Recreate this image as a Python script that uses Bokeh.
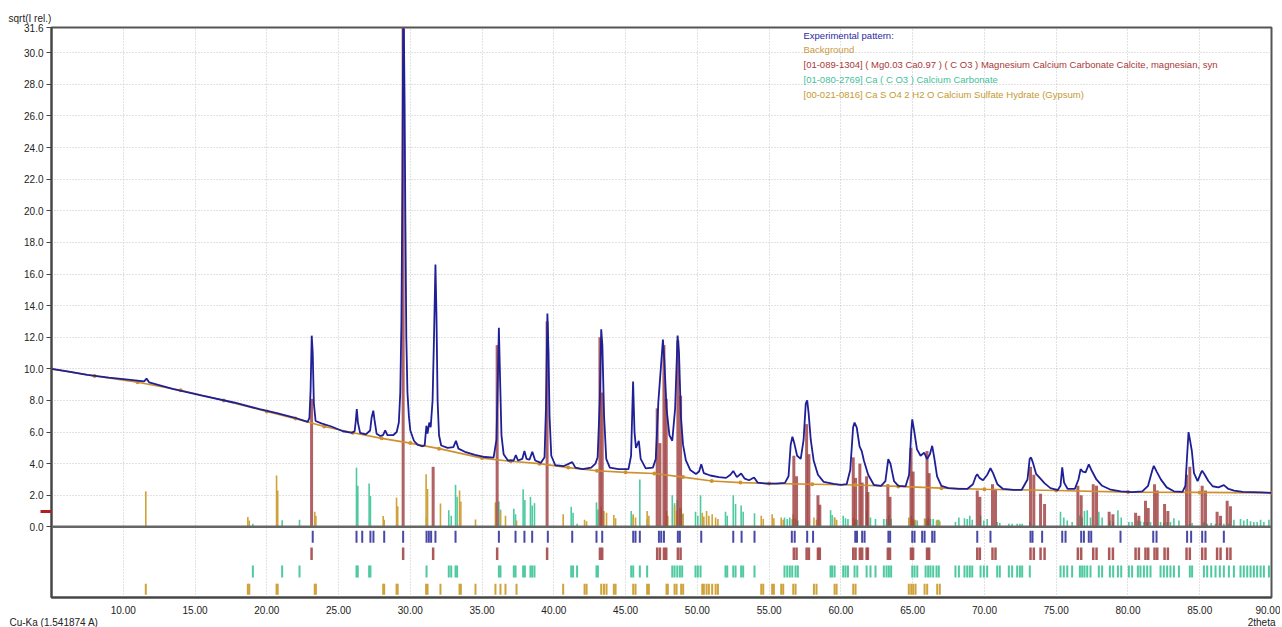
from bokeh.plotting import figure
from bokeh.layouts import column, row
from bokeh.models import Range1d, FixedTicker, PrintfTickFormatter, Span, Label
from bokeh.core.properties import value
from bokeh.embed import file_html
from bokeh.resources import INLINE

# ---------------- data ----------------
exp_2theta = [
    5.0, 6.0, 7.5, 9.0, 10.5, 11.45, 11.62, 11.8, 13.5, 15.5, 17.7, 19.5, 20.7, 21.9, 22.85,
    22.97, 23.05, 23.13, 23.2, 23.28, 23.4, 23.8, 24.5, 25.3, 25.95,
    26.12, 26.2, 26.27, 26.35, 26.5, 26.9, 27.2, 27.3, 27.42, 27.5, 27.65, 27.9, 28.1, 28.25, 28.4,
    28.8, 29.05, 29.2, 29.3, 29.38, 29.45, 29.5, 29.55, 29.6, 29.65, 29.72, 29.8, 29.9, 30.0,
    30.25, 30.5, 30.8, 31.0, 31.12, 31.2, 31.32, 31.42, 31.55, 31.65, 31.75, 31.82, 31.9, 32.0,
    32.15, 32.6, 33.0, 33.18, 33.35, 33.8, 34.5, 35.2, 35.8, 36.0, 36.1, 36.17, 36.25, 36.35,
    36.5, 36.8, 37.2, 37.35, 37.5, 37.8, 37.95, 38.1, 38.3, 38.5, 38.7, 39.1, 39.35, 39.45,
    39.55, 39.63, 39.7, 39.82, 40.1, 40.7, 41.28, 41.5, 42.0, 42.6, 42.9, 43.05, 43.2, 43.3,
    43.38, 43.5, 43.65, 43.9, 44.5, 45.2, 45.38, 45.52, 45.62, 45.72, 45.92, 46.05, 46.4, 46.9,
    47.1, 47.28, 47.45, 47.6, 47.7, 47.85, 48.05, 48.25, 48.45, 48.62, 48.72, 48.85, 49.0, 49.2,
    49.5, 49.9, 50.12, 50.27, 50.45, 50.9, 51.5, 52.0, 52.3, 52.5, 52.75, 53.05, 53.3, 53.6,
    53.95, 54.2, 54.8, 55.5, 56.1, 56.35, 56.5, 56.62, 56.75, 56.95, 57.2, 57.4, 57.55, 57.65,
    57.75, 57.9, 58.1, 58.4, 58.8, 59.5, 60.0, 60.4, 60.65, 60.85, 60.95, 61.1, 61.3, 61.45,
    61.6, 61.9, 62.3, 62.8, 63.1, 63.3, 63.45, 63.7, 64.0, 64.5, 64.75, 64.9, 64.97, 65.1,
    65.3, 65.55, 65.8, 66.0, 66.2, 66.36, 66.5, 66.7, 67.0, 67.5, 68.2, 68.8, 69.2, 69.4,
    69.5, 69.65, 69.9, 70.2, 70.42, 70.6, 70.9, 71.3, 72.0, 72.6, 73.0, 73.15, 73.25, 73.4,
    73.6, 73.95, 74.2, 74.6, 75.1, 75.3, 75.42, 75.55, 75.8, 76.3, 76.55, 76.7, 76.85, 77.05,
    77.27, 77.45, 77.8, 78.2, 78.8, 79.5, 80.3, 81.0, 81.4, 81.7, 81.8, 82.0, 82.3, 82.7,
    83.2, 83.8, 84.0, 84.12, 84.22, 84.32, 84.45, 84.6, 84.85, 85.1, 85.17, 85.35, 85.6, 85.9,
    86.3, 86.68, 87.0, 87.4, 88.0, 88.7, 89.3, 90.0,
]
exp_sqrtI = [
    10.0, 9.85, 9.62, 9.45, 9.3, 9.2, 9.38, 9.15, 8.72, 8.3, 7.87, 7.45, 7.2, 6.92, 6.65,
    6.9, 8.6, 12.1, 11.0, 7.8, 6.7, 6.55, 6.35, 6.05, 5.95,
    6.05, 6.7, 7.45, 6.6, 5.95, 5.85, 6.1, 6.9, 7.35, 6.8, 5.9, 5.75, 5.8, 6.1, 5.8,
    5.8, 6.0, 6.6, 8.5, 13.0, 22.0, 31.5, 31.5, 27.0, 20.0, 12.0, 8.5, 7.0, 6.1,
    5.45, 5.2, 5.1, 5.15, 6.4, 5.9, 6.6, 6.3, 8.0, 12.0, 16.6, 13.5, 8.0, 5.8,
    5.15, 5.0, 5.05, 5.45, 4.95, 4.75, 4.55, 4.42, 4.38, 5.5, 9.5, 12.6, 9.5, 5.8,
    4.6, 4.2, 4.2, 4.55, 4.2, 4.3, 4.8, 4.3, 4.25, 4.75, 4.2, 4.05, 4.4, 7.5,
    13.5, 11.0, 7.0, 4.5, 3.9, 3.85, 4.1, 3.75, 3.65, 3.75, 4.0, 4.4, 8.0, 12.5,
    11.5, 7.0, 4.3, 3.75, 3.65, 3.65, 4.5, 9.2, 6.0, 5.0, 5.45, 4.3, 3.7, 3.75,
    4.3, 7.9, 10.0, 11.85, 10.5, 7.5, 5.8, 5.45, 7.5, 12.1, 11.0, 7.0, 5.2, 4.2,
    3.6, 3.35, 3.5, 3.97, 3.4, 3.25, 3.15, 3.1, 3.3, 3.54, 3.15, 3.38, 3.05, 2.95,
    3.12, 2.8, 2.74, 2.74, 2.78, 3.2, 5.2, 5.7, 5.3, 4.5, 4.3, 5.5, 7.8, 8.0,
    7.2, 5.5, 4.2, 3.3, 2.85, 2.72, 2.66, 2.7, 3.6, 6.3, 6.6, 6.3, 5.1, 4.8,
    4.2, 3.3, 2.65, 2.6, 2.9, 4.28, 4.0, 2.9, 2.6, 2.56, 3.3, 6.0, 6.8, 6.1,
    4.9, 4.5, 4.7, 4.3, 4.6, 5.13, 4.4, 3.2, 2.6, 2.45, 2.4, 2.4, 2.7, 3.2,
    3.33, 3.1, 2.95, 3.3, 3.71, 3.4, 2.7, 2.4, 2.34, 2.35, 3.0, 4.3, 4.39, 4.0,
    3.35, 3.0, 2.75, 2.45, 2.32, 2.6, 3.76, 2.8, 2.4, 2.4, 3.0, 3.65, 3.5, 3.45,
    3.96, 3.6, 3.0, 2.6, 2.35, 2.25, 2.2, 2.25, 2.6, 3.6, 3.86, 3.5, 2.99, 2.5,
    2.25, 2.22, 2.6, 4.5, 6.0, 5.5, 4.8, 3.4, 2.9, 3.45, 3.55, 3.3, 2.9, 2.57,
    2.5, 2.64, 2.4, 2.3, 2.22, 2.2, 2.18, 2.15,
]

bg_2theta = [5, 8, 11, 14, 17, 20, 22, 24, 26, 28, 30, 32, 35, 37, 39, 41, 43, 45, 47, 49,
             51, 53, 55, 58, 61, 64, 67, 70, 75, 80, 85, 90]
bg_sqrtI = [10.0, 9.55, 9.15, 8.65, 8.0, 7.3, 6.85, 6.35, 5.95, 5.6, 5.3, 4.95, 4.35, 4.15,
            4.0, 3.75, 3.55, 3.45, 3.38, 3.15, 2.9, 2.8, 2.75, 2.7, 2.65, 2.56, 2.45, 2.38,
            2.3, 2.2, 2.18, 2.15]

# peak list of the experimental pattern (blue ticks)
peak_pos = [23.2, 26.25, 26.65, 27.22, 27.43, 28.18, 29.5, 31.13, 31.29, 31.45, 31.75, 33.15,
            36.17, 37.33, 37.95, 38.49, 39.58, 41.28, 42.97, 43.37, 45.53, 45.69, 45.99, 47.32,
            47.48, 47.67, 48.64, 48.78, 50.27, 52.5, 53.08, 53.98, 56.58, 56.78, 57.65, 58.06,
            61.0, 61.12, 61.48, 61.65, 63.31, 63.43, 64.97, 65.13, 65.66, 65.83, 66.36, 66.52,
            69.5, 70.42, 73.21, 73.35, 74.02, 75.42, 75.65, 76.74, 76.93, 77.27, 77.44, 79.48,
            81.76, 81.99, 84.12, 84.4, 85.17, 85.4, 86.68]

# [01-089-1304] magnesian calcite
calcite_pos = [23.12, 29.5, 31.59, 36.05, 39.53, 43.21, 43.37, 47.2, 47.39, 47.67, 47.83,
               48.64, 48.83, 56.72, 56.91, 57.61, 57.77, 58.4, 58.53, 60.86, 61.02, 61.32,
               61.48, 61.79, 61.88, 63.27, 63.42, 64.88, 65.03, 66.0, 66.15, 69.5, 69.68,
               70.56, 70.77, 73.21, 73.44, 73.91, 74.19, 76.51, 76.74, 77.58, 77.81, 78.69,
               78.95, 80.53, 80.76, 81.22, 81.41, 81.85, 82.04, 82.55, 82.78, 84.08, 84.31,
               85.17, 85.4, 86.21, 86.45, 86.91, 87.14]
calcite_h = [8.1, 31.6, 3.8, 11.5, 13.0, 12.0, 8.5, 7.5, 5.3, 11.5, 8.1,
             11.8, 8.3, 4.5, 3.2, 6.5, 4.6, 2.0, 1.4, 4.4, 3.1, 4.0,
             2.8, 3.2, 2.2, 2.7, 1.9, 5.0, 3.5, 4.8, 3.4, 2.3, 1.9,
             2.7, 2.4, 3.8, 3.3, 2.1, 1.45, 2.6, 2.0, 2.7, 2.6, 0.95,
             0.8, 0.9, 0.7, 1.65, 1.2, 2.7, 2.3, 1.45, 1.0, 3.3, 3.8,
             2.6, 2.3, 0.95, 0.7, 1.65, 1.3]

# [01-080-2769] calcium carbonate
arag_pos = [19.03, 21.07, 22.28, 26.25, 26.34, 27.13, 27.22, 31.13, 32.68, 32.85, 33.15, 33.26,
            36.17, 36.28, 37.21, 37.33, 37.86, 37.98, 38.37, 38.49, 38.65, 41.21, 41.34, 41.62,
            42.97, 43.07, 45.39, 45.53, 45.99, 46.5, 48.25, 48.41, 48.6, 48.78, 48.94, 49.87,
            50.03, 50.22, 51.96, 52.08, 52.5, 52.66, 53.05, 53.19, 53.98, 56.07, 56.26, 56.44,
            56.61, 56.84, 57.0, 59.28, 59.39, 59.56, 60.16, 60.32, 60.49, 60.95, 61.14, 61.79,
            62.06, 62.41, 62.99, 63.18, 63.34, 63.5, 64.97, 65.13, 65.32, 65.9, 66.08, 66.24,
            66.43, 66.66, 66.82, 67.98, 68.22, 68.61, 68.8, 68.98, 69.15, 69.73, 69.96, 70.19,
            70.89, 71.07, 71.7, 71.93, 72.28, 72.47, 72.63, 73.16, 75.3, 75.53, 75.77, 76.11,
            76.65, 76.81, 76.97, 77.16, 77.39, 77.97, 78.2, 78.74, 78.97, 79.3, 79.53, 80.06,
            80.29, 80.69, 80.87, 81.11, 81.34, 81.57, 82.27, 82.5, 82.73, 82.96, 83.2, 83.55,
            84.31, 84.47, 85.29, 85.52, 85.8, 86.1, 86.4, 86.68, 87.03, 87.38, 87.84, 88.07,
            88.31, 88.54, 88.77, 89.0, 89.24, 89.47, 89.82]
arag_h = [0.2, 0.42, 0.45, 3.75, 2.6, 2.75, 1.95, 0.6, 1.05, 0.7, 2.66, 1.9,
          1.6, 1.1, 1.15, 0.8, 2.38, 1.7, 1.9, 1.35, 1.5, 1.27, 0.9, 0.2,
          1.55, 1.1, 1.0, 0.7, 3.0, 0.5, 2.0, 1.5, 1.7, 1.2, 0.8, 0.95,
          0.7, 2.0, 0.95, 0.7, 2.0, 1.45, 1.35, 0.95, 0.86, 0.6, 0.5, 0.6,
          0.5, 0.45, 0.4, 1.05, 0.75, 0.6, 0.7, 0.55, 0.5, 0.5, 0.45, 1.0,
          0.6, 0.5, 0.5, 0.5, 0.75, 0.5, 0.4, 0.4, 0.4, 0.5, 0.6, 0.5,
          0.5, 0.4, 0.45, 0.3, 0.6, 0.55, 0.5, 0.7, 0.45, 0.72, 0.4, 0.5,
          0.3, 0.25, 0.2, 0.2, 0.2, 0.2, 0.2, 0.3, 0.95, 0.6, 0.4, 0.3,
          0.72, 0.6, 1.0, 1.05, 0.6, 0.95, 0.6, 0.4, 0.3, 1.05, 0.6, 0.3,
          0.3, 0.4, 0.35, 0.3, 0.3, 0.3, 0.3, 0.25, 0.3, 0.3, 0.55, 0.4,
          0.2, 0.25, 0.3, 0.2, 0.25, 0.2, 0.25, 0.2, 0.2, 0.45, 0.5, 0.4,
          0.5, 0.35, 0.3, 0.3, 0.45, 0.3, 0.45]

# [00-021-0816] gypsum
gyp_pos = [11.57, 18.68, 18.78, 20.68, 20.76, 23.34, 23.42, 28.11, 28.18, 29.04, 29.12, 31.1,
           31.2, 32.1, 33.43, 33.52, 34.54, 35.93, 36.28, 36.63, 37.4, 40.65, 42.14, 42.28,
           43.3, 43.49, 43.67, 44.18, 44.3, 45.53, 45.69, 46.5, 46.62, 47.85, 47.94, 48.41,
           48.55, 48.87, 49.01, 50.34, 50.45, 50.64, 50.8, 51.03, 51.27, 51.43, 54.45, 54.59,
           55.21, 55.33, 55.84, 55.98, 56.68, 56.84, 58.12, 58.3, 59.56, 59.7, 60.86, 61.02,
           64.73, 64.9, 65.04, 65.2, 65.83, 66.01, 66.71, 66.89]
gyp_h = [2.25, 0.63, 0.4, 3.25, 2.3, 0.95, 0.7, 0.68, 0.45, 1.85, 1.3, 3.33,
         2.4, 1.48, 2.3, 1.6, 0.46, 1.55, 1.0, 0.7, 0.4, 0.8, 0.45, 0.35,
         1.3, 1.0, 0.9, 0.75, 0.55, 0.8, 0.6, 1.0, 0.7, 1.0, 0.7, 1.35,
         1.0, 1.2, 0.85, 0.9, 0.65, 1.0, 0.7, 0.8, 0.6, 0.5, 0.7, 0.5,
         0.8, 0.55, 0.6, 0.45, 0.8, 0.55, 0.6, 0.45, 0.6, 0.45, 0.6, 0.45,
         0.6, 0.7, 0.5, 0.45, 0.55, 0.4, 0.45, 0.35]

# red offset marker on the intensity axis
marker_level = [0.95]

y_ticks = [0.0, 2.0, 4.0, 6.0, 8.0, 10.0, 12.0, 14.0, 16.0, 18.0, 20.0, 22.0, 24.0, 26.0,
           28.0, 30.0, 31.6]
x_ticks = [10, 15, 20, 25, 30, 35, 40, 45, 50, 55, 60, 65, 70, 75, 80, 85, 90]

legend_texts = [
    "Experimental pattern:",
    "Background",
    "[01-089-1304] ( Mg0.03 Ca0.97 ) ( C O3 ) Magnesium Calcium Carbonate Calcite, magnesian, syn",
    "[01-080-2769] Ca ( C O3 ) Calcium Carbonate",
    "[00-021-0816] Ca S O4 2 H2 O Calcium Sulfate Hydrate (Gypsum)",
]
y_title = "sqrt(I rel.)"
footer_left = "Cu-Ka (1.541874 A)"
footer_right = "2theta"

# ---------------- styles ----------------
FONT = "Liberation Sans"
C_EXP = "#1f1f96"
C_BG = "#d0902c"
C_CAL = "#9e3c3c"
C_ARA = "#4fc9a0"
C_GYP = "#cfa23a"
C_PK = "#4848a6"
legend_colors = ["#2a2aa0", "#c89a40", "#a83838", "#3fbf9a", "#c49a30"]

W, H = 1280, 616
ML, MR, MT, MB = 51, 9, 27, 19
FH = H - MT - MB

p = figure(width=W, height=H, output_backend="svg", toolbar_location=None,
           x_range=Range1d(5.0, 90.0), y_range=Range1d(-4.47, 31.6),
           min_border_left=ML, min_border_right=MR, min_border_top=MT, min_border_bottom=MB)
p.background_fill_color = "white"
p.border_fill_color = "white"
p.outline_line_color = "#555555"
p.outline_line_width = 2

# title used as the intensity caption (top-left)
p.title.text = y_title
p.title.align = "left"
p.title.offset = -43
p.title.standoff = 8
p.title.text_font = FONT
p.title.text_font_size = "10px"
p.title.text_font_style = "normal"
p.title.text_color = "#222222"

# axes
p.yaxis.ticker = FixedTicker(ticks=y_ticks, minor_ticks=marker_level)
p.yaxis.formatter = PrintfTickFormatter(format="%.1f")
p.xaxis.ticker = FixedTicker(ticks=x_ticks)
p.xaxis.formatter = PrintfTickFormatter(format="%.2f")
for ax in (p.xaxis, p.yaxis):
    ax.axis_line_color = "#444444"
    ax.axis_line_width = 2
    ax.major_label_text_font = FONT
    ax.major_label_text_font_size = "10px"
    ax.major_label_text_color = "#222222"
    ax.major_tick_line_color = "#444444"
    ax.major_tick_in = 0
p.xaxis.minor_tick_line_color = None
p.yaxis.minor_tick_line_color = "#b02020"
p.yaxis.minor_tick_line_width = 3
p.yaxis.minor_tick_out = 11
p.yaxis.minor_tick_in = 0
p.yaxis.major_tick_out = 5
p.yaxis.major_label_standoff = -3
p.xaxis.major_tick_out = 0
p.xaxis.major_label_standoff = 8

# grids
p.xgrid.ticker = FixedTicker(ticks=x_ticks[:-1])
p.ygrid.ticker = FixedTicker(ticks=y_ticks[1:-1])
for g in (p.xgrid, p.ygrid):
    g.grid_line_color = "#c4c4c4"
    g.grid_line_dash = "1 2"
    g.grid_line_width = 1

# phase sticks (upper panel)
p.segment(x0=arag_pos, y0=0, x1=arag_pos, y1=arag_h, line_color=C_ARA, line_width=1.6)
p.segment(x0=gyp_pos, y0=0, x1=gyp_pos, y1=gyp_h, line_color=C_GYP, line_width=1.6)
p.segment(x0=calcite_pos, y0=0, x1=calcite_pos, y1=calcite_h, line_color=C_CAL,
          line_width=3, line_alpha=0.8)

# background and experimental pattern
p.line(bg_2theta, bg_sqrtI, line_color=C_BG, line_width=1.6)
p.scatter(bg_2theta, bg_sqrtI, size=4, marker="circle", fill_color=C_BG, line_color=None)
p.line(exp_2theta, exp_sqrtI, line_color=C_EXP, line_width=1.8)

# zero line
p.add_layout(Span(location=0, dimension="width", line_color="#666666", line_width=2.5))

# tick rows (lower panel)
p.segment(x0=peak_pos, y0=-1.0, x1=peak_pos, y1=-0.25, line_color=C_PK, line_width=2)
p.segment(x0=calcite_pos, y0=-2.1, x1=calcite_pos, y1=-1.3, line_color=C_CAL, line_width=2.5,
          line_alpha=0.85)
p.segment(x0=arag_pos, y0=-3.2, x1=arag_pos, y1=-2.45, line_color=C_ARA, line_width=2)
p.segment(x0=gyp_pos, y0=-4.3, x1=gyp_pos, y1=-3.6, line_color=C_GYP, line_width=2)

# legend (text only)
leg_y = [35, 49, 64, 79, 94]
for txt, col, yy in zip(legend_texts, legend_colors, leg_y):
    p.add_layout(Label(x=752, y=FH - (yy - MT), x_units="screen", y_units="screen",
                       text=txt, text_color=col, text_font=FONT, text_font_size="9.5px",
                       text_baseline="middle", text_align="left"))

# footer strip with the wavelength and axis captions
FOOT_H = 11
f = figure(width=W, height=FOOT_H, output_backend="svg", toolbar_location=None,
           x_range=Range1d(0, W), y_range=Range1d(0, FOOT_H),
           x_axis_type=None, y_axis_type=None, min_border=0)
f.outline_line_color = None
f.background_fill_color = "white"
f.border_fill_color = "white"
f.grid.visible = False
f.text(x=[9], y=[FOOT_H / 2 + 0.5], text=[footer_left], text_font=value(FONT),
       text_font_size="10px", text_color="#222222", text_align="left", text_baseline="middle")
f.text(x=[1275], y=[FOOT_H / 2 + 0.5], text=[footer_right], text_font=value(FONT),
       text_font_size="10px", text_color="#222222", text_align="right", text_baseline="middle")

layout = column(p, row(f), spacing=0)
open("out.html", "w").write(file_html(layout, INLINE))
